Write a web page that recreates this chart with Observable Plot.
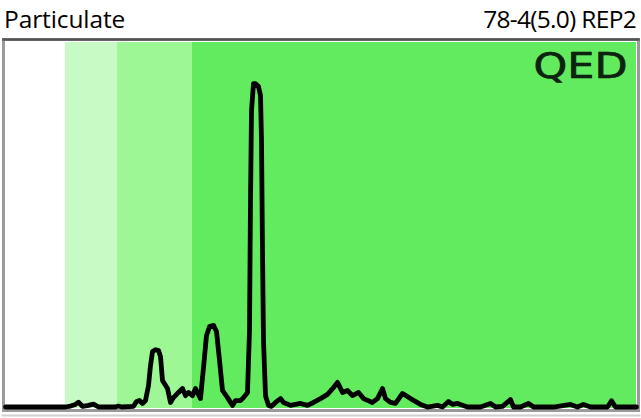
<!DOCTYPE html>
<html>
<head>
<meta charset="utf-8">
<script src="https://cdn.jsdelivr.net/npm/d3@7"></script>
<script src="https://cdn.jsdelivr.net/npm/@observablehq/plot@0.6"></script>
<style>
  html, body { margin: 0; padding: 0; background: #fff; }
  #wrap { width: 641px; height: 418px; position: relative; overflow: hidden; }
  #title { position: relative; height: 37px; font-family: "Open Sans", sans-serif; font-size: 24.5px; color: #000; }
  #title span { position: absolute; top: 0; line-height: 37px; white-space: nowrap; }
  #tl { left: 4px; letter-spacing: -0.1px; }
  #tr { right: 5px; letter-spacing: -0.7px; }
  svg { display: block; }
</style>
</head>
<body>
<div id="wrap">
  <div id="title"><span id="tl">Particulate</span><span id="tr">78-4(5.0) REP2</span></div>
  <div id="chart"></div>
</div>
<script>
// Retention time (min) and detector signal (relative units)
const times = [0, 3.0, 3.25, 3.5, 3.65, 3.85, 4.15, 4.4, 4.65, 5.5, 5.65, 5.8, 6.4, 6.55, 6.7, 6.85, 7.0, 7.15, 7.25, 7.35, 7.5, 7.65, 7.75, 7.85, 8.1, 8.25, 8.4, 8.65, 8.85, 9.0, 9.15, 9.35, 9.5, 9.75, 9.9, 10.05, 10.2, 10.4, 10.55, 10.7, 10.85, 11.1, 11.35, 11.5, 11.75, 11.9, 12.1, 12.2, 12.25, 12.3, 12.4, 12.5, 12.65, 12.75, 12.8, 12.85, 12.9, 13.0, 13.15, 13.3, 13.5, 13.75, 13.9, 14.25, 14.75, 15.1, 15.4, 15.75, 16.1, 16.4, 16.6, 16.85, 17.1, 17.35, 17.65, 17.9, 18.35, 18.6, 18.85, 19.0, 19.25, 19.5, 19.85, 20.25, 20.75, 21.1, 21.6, 21.85, 22.15, 22.35, 22.6, 23.1, 23.75, 24.25, 24.5, 24.85, 25.25, 25.4, 25.75, 26.15, 26.4, 27.4, 28.25, 28.6, 28.9, 29.25, 30.1, 30.3, 30.5, 31.55];
const signal = [0, 0, 0.3, 0.8, 1.5, 0.2, 0.5, 0.9, 0, 0, 0.3, 0, 0.2, 1.7, 2.0, 1.1, 2.0, 6.6, 12.8, 17.1, 17.7, 17.4, 15.6, 8.2, 5.7, 1.4, 2.9, 4.5, 5.7, 3.5, 4.5, 3.5, 5.7, 2.6, 12.2, 22.1, 24.8, 25.2, 23.3, 14.4, 5.1, 2.9, 0.5, 2.0, 2.0, 2.9, 4.5, 23.6, 63.7, 91.5, 99.8, 99.8, 98.9, 96.1, 82.3, 48.3, 20.5, 3.5, 0.5, 0.2, 1.4, 2.6, 1.4, 0.5, 1.1, 0.5, 1.4, 2.6, 3.9, 6.0, 7.6, 4.5, 5.1, 3.5, 4.5, 2.6, 1.4, 2.6, 5.7, 2.6, 1.4, 1.1, 4.2, 2.6, 0.8, 0, 0.5, 0, 1.7, 0.8, 1.1, 0, 0, 1.1, 0, 0.2, 2.3, 0, 0, 1.1, 0, 0, 0.8, 0, 0.8, 0, 0, 1.9, 0, 0];

// Background fraction bands
const bandStart = [0, 3.0, 5.6, 9.35];
const bandEnd = [3.0, 5.6, 9.35, 31.55];
const bandColor = ["#ffffff", "#c8fac6", "#9df795", "#63eb5f"];

const points = times.map((t, i) => ({t, v: signal[i]}));
const bands = bandStart.map((s, i) => ({x1: s, x2: bandEnd[i], color: bandColor[i]}));

const chart = Plot.plot({
  width: 641,
  height: 381,
  marginLeft: 5,
  marginRight: 5,
  marginTop: 5,
  marginBottom: 10,
  x: {domain: [0, 31.55], axis: null},
  y: {domain: [-0.46, 112.5], axis: null},
  color: {type: "identity"},
  style: {background: "#fff", overflow: "visible"},
  marks: [
    Plot.rect(bands, {x1: "x1", x2: "x2", fill: "color"}),
    Plot.frame({anchor: "bottom", stroke: "#d0d0d0", strokeWidth: 2, insetBottom: -7, insetLeft: -3, insetRight: -3}),
    Plot.frame({stroke: "#9a9a9a", strokeWidth: 3, insetLeft: -2, insetRight: -2, insetTop: -3, insetBottom: -2}),
    Plot.frame({anchor: "top", stroke: "#555", strokeWidth: 2.5, insetTop: -3, insetLeft: -2, insetRight: -2}),
    Plot.line(points, {x: "t", y: "v", stroke: "#000", strokeWidth: 4.8, strokeLinejoin: "round", strokeLinecap: "round"}),
    Plot.text(["QED"], {frameAnchor: "top-right", text: d => d, dx: -9, dy: 11, fontSize: 35, fontFamily: "DejaVu Sans", fill: "#0e2210", stroke: "#000", strokeWidth: 0.6, lineAnchor: "top", textAnchor: "end"})
  ]
});
document.getElementById("chart").appendChild(chart);
d3.select(chart).selectAll("text").filter(function() { return this.textContent === "QED"; })
  .attr("textLength", 94).attr("lengthAdjust", "spacingAndGlyphs");
</script>
</body>
</html>
